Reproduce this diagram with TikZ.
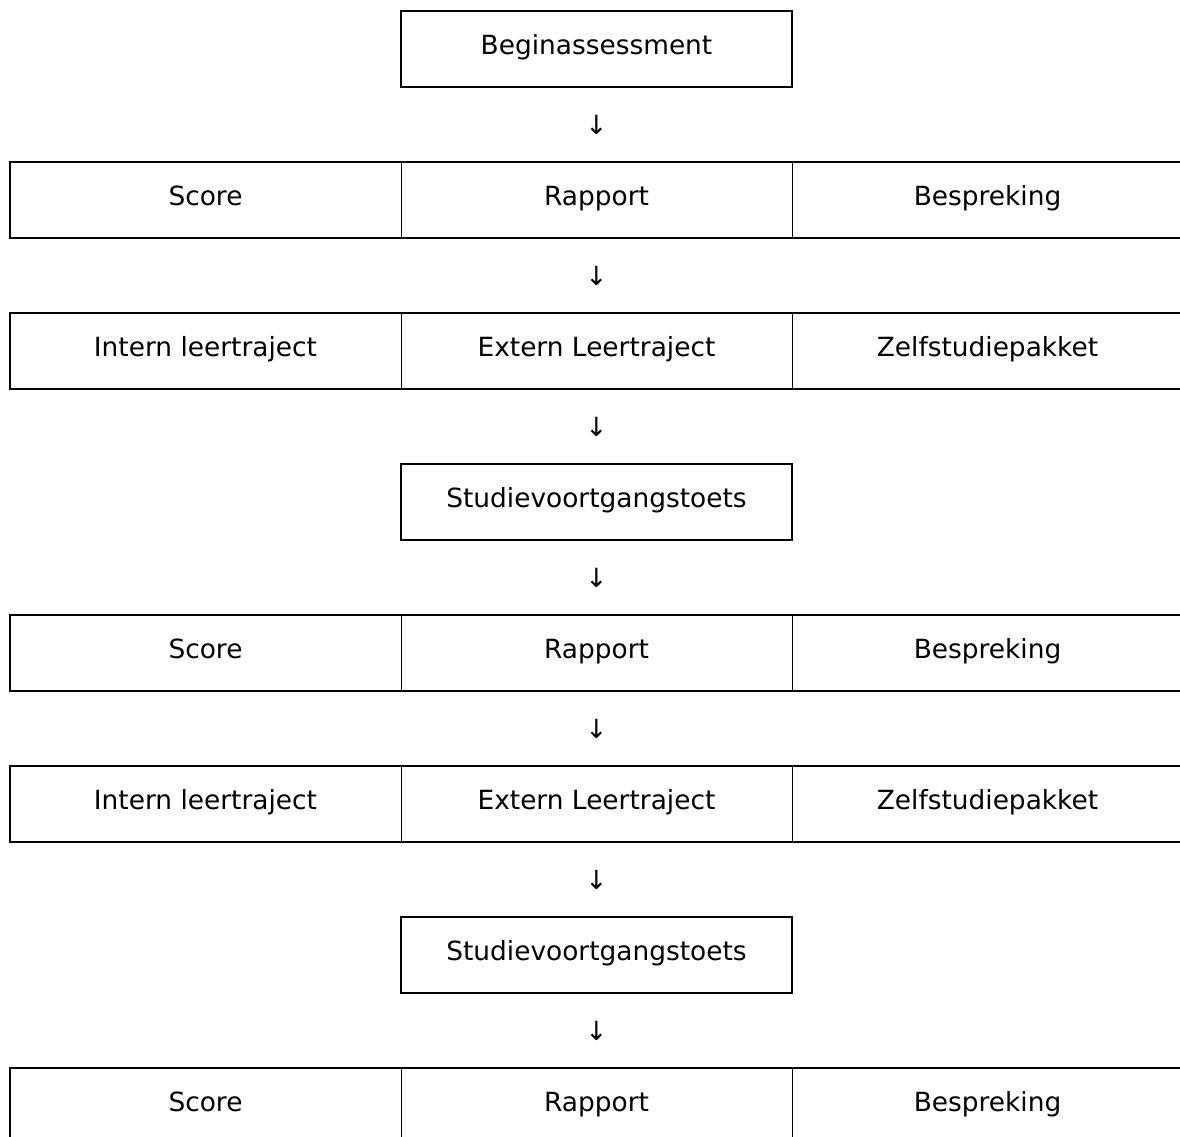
\documentclass[tikz,border=0pt]{standalone}
\usepackage{fontspec}
\setmainfont{DejaVu Sans}
\usetikzlibrary{positioning}

\begin{document}
\begin{tikzpicture}[every node/.style={font=\fontsize{13.2pt}{16pt}\selectfont},
  box/.style={rectangle, draw, line width=1pt, outer sep=0pt, inner sep=0pt,
    minimum width=195.5pt, minimum height=38pt, text height=9.5pt, text depth=4pt},
  cel/.style={rectangle, draw, line width=0.5pt, outer sep=0pt, inner sep=0pt,
    minimum width=195.5pt, minimum height=38pt, text height=9.5pt, text depth=4pt},
  pijl/.style={inner sep=0pt, outer sep=0pt, minimum height=37.5pt},
  rand/.style={line width=1pt}]
  \useasboundingbox (0,0) rectangle (590pt,-568.5pt);
  \clip (0,0) rectangle (590pt,-568.5pt);
  % Start
  \node[box] (begin) at (298.25pt,-24.5pt) {Beginassessment};
  \node[pijl, below=0pt of begin] (p1) {↓};
  % Eerste terugkoppeling
  \node[cel, below=0pt of p1] (rap1) {Rapport};
  \node[cel, left=0pt of rap1] (sco1) {Score};
  \node[cel, right=0pt of rap1] (bes1) {Bespreking};
  \draw[rand] (sco1.north west) rectangle (bes1.south east);
  \node[pijl, below=0pt of rap1] (p2) {↓};
  % Leertrajecten
  \node[cel, below=0pt of p2] (ext1) {Extern Leertraject};
  \node[cel, left=0pt of ext1] (int1) {Intern leertraject};
  \node[cel, right=0pt of ext1] (zel1) {Zelfstudiepakket};
  \draw[rand] (int1.north west) rectangle (zel1.south east);
  \node[pijl, below=0pt of ext1] (p3) {↓};
  % Eerste toets
  \node[box, below=0pt of p3] (toets1) {Studievoortgangstoets};
  \node[pijl, below=0pt of toets1] (p4) {↓};
  % Tweede terugkoppeling
  \node[cel, below=0pt of p4] (rap2) {Rapport};
  \node[cel, left=0pt of rap2] (sco2) {Score};
  \node[cel, right=0pt of rap2] (bes2) {Bespreking};
  \draw[rand] (sco2.north west) rectangle (bes2.south east);
  \node[pijl, below=0pt of rap2] (p5) {↓};
  % Leertrajecten
  \node[cel, below=0pt of p5] (ext2) {Extern Leertraject};
  \node[cel, left=0pt of ext2] (int2) {Intern leertraject};
  \node[cel, right=0pt of ext2] (zel2) {Zelfstudiepakket};
  \draw[rand] (int2.north west) rectangle (zel2.south east);
  \node[pijl, below=0pt of ext2] (p6) {↓};
  % Tweede toets
  \node[box, below=0pt of p6] (toets2) {Studievoortgangstoets};
  \node[pijl, below=0pt of toets2] (p7) {↓};
  % Derde terugkoppeling
  \node[cel, below=0pt of p7] (rap3) {Rapport};
  \node[cel, left=0pt of rap3] (sco3) {Score};
  \node[cel, right=0pt of rap3] (bes3) {Bespreking};
  \draw[rand] (sco3.north west) rectangle (bes3.south east);
\end{tikzpicture}
\end{document}
